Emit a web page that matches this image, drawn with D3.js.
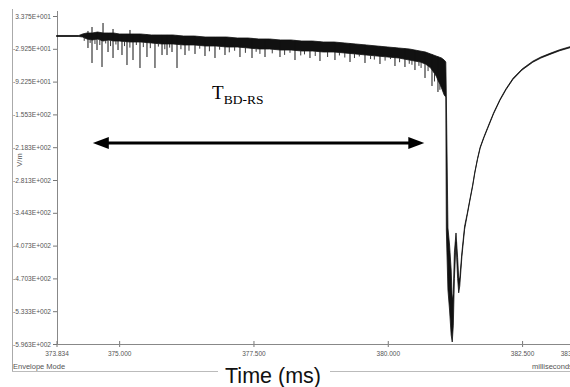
<!DOCTYPE html>
<html>
<head>
<meta charset="utf-8">
<script src="https://cdn.jsdelivr.net/npm/d3@7"></script>
<style>
  html, body { margin: 0; padding: 0; background: #fff; }
  svg { display: block; }
  .lbl { font-family: Arial, "Liberation Sans", sans-serif; fill: #555; }
</style>
</head>
<body>
<svg id="chart" width="570" height="387"></svg>
<script>
// envelope (min/max per time slot), time in ms, field in V/m
const envTime = [373.834, 374.25, 374.32, 374.4, 374.5, 374.6, 374.7, 374.8, 374.9, 375.0, 375.2, 375.4, 375.6, 375.8, 376.0, 376.2, 376.4, 376.6, 376.8, 377.0, 377.2, 377.4, 377.6, 377.8, 378.0, 378.2, 378.4, 378.6, 378.8, 379.0, 379.2, 379.4, 379.6, 379.8, 380.0, 380.2, 380.4, 380.6, 380.7, 380.8, 380.9, 381.0, 381.05, 381.08, 381.09, 381.12, 381.15, 381.18, 381.2, 381.22, 381.24, 381.27, 381.30, 381.32, 381.34, 381.38, 381.43, 381.48, 381.53, 381.58, 381.62, 381.67, 381.72, 381.79, 381.86, 381.97, 382.09, 382.2, 382.33, 382.5, 382.7, 382.85, 383.02, 383.2, 383.43];
const envHi = [-3.7, -3.7, -0.8, 1.1, 1.1, 3.0, 1.1, 1.1, 1.1, -0.8, -0.8, -0.8, -2.7, -2.7, -2.7, -4.7, -4.7, -6.6, -6.6, -6.6, -8.5, -8.5, -10.4, -10.4, -12.3, -12.3, -14.3, -14.3, -16.2, -16.2, -18.1, -20.0, -21.9, -23.9, -25.8, -27.7, -29.6, -33.5, -35.4, -39.2, -43.1, -46.9, -50.8, -54.6, -121.8, -373.4, -406.1, -454.1, -511.7, -500.0, -420.0, -383.0, -430.0, -470.0, -470.0, -420.0, -370.0, -345.0, -317.7, -291.0, -266.0, -240.0, -218.0, -198.0, -180.0, -152.0, -126.0, -106.0, -86.0, -68.0, -53.0, -45.0, -38.0, -31.0, -24.0];
const envLo = [-5.6, -5.6, -6.6, -10.4, -12.3, -10.4, -14.3, -12.3, -14.3, -14.3, -16.2, -16.2, -18.1, -20.0, -20.0, -21.9, -21.9, -23.9, -23.9, -25.8, -25.8, -27.7, -29.6, -29.6, -31.6, -31.6, -33.5, -33.5, -35.4, -35.4, -37.3, -39.2, -41.2, -43.1, -45.0, -46.9, -50.8, -54.6, -58.4, -66.1, -81.5, -104.5, -118.0, -121.8, -377.3, -492.5, -531.0, -579.0, -592.4, -560.0, -470.0, -400.0, -470.0, -498.0, -485.0, -428.0, -376.0, -348.0, -320.0, -293.0, -268.0, -242.0, -220.0, -200.0, -182.0, -154.0, -128.0, -108.0, -88.0, -70.0, -55.0, -47.0, -40.0, -33.0, -26.0];

// noise spikes below / above the band
const spikeTime = [374.420, 374.495, 374.588, 374.681, 374.793, 374.886, 374.979, 375.053, 375.146, 375.258, 375.388, 375.518, 375.667, 375.798, 375.891, 375.984, 376.077, 376.226, 376.412, 376.598, 376.784, 376.970, 377.249, 377.473, 377.715, 377.994, 378.273, 378.552, 378.738, 379.017, 379.297, 379.576, 379.855, 380.134, 380.320, 380.506, 380.693, 380.823, 380.934];
const spikeLow = [-27.7, -56.5, -31.6, -64.2, -35.4, -46.9, -31.6, -41.2, -60.4, -50.8, -66.1, -45.0, -66.1, -41.2, -41.2, -35.4, -66.1, -41.2, -39.2, -43.1, -46.9, -41.2, -45.0, -46.9, -45.0, -45.0, -50.8, -46.9, -52.7, -50.8, -54.6, -56.5, -58.4, -62.3, -64.2, -70.0, -85.3, -100.7, -112.2];
const hairTime = [374.35, 374.46, 374.55, 374.64, 374.75, 374.84, 374.94, 375.1, 375.2, 375.32, 375.45, 375.58, 375.73, 375.85, 375.94, 376.15, 376.3, 376.5, 376.68, 376.87, 377.05, 377.15, 377.35, 377.55, 377.62, 377.85, 378.08, 378.18, 378.38, 378.45, 378.65, 378.88, 379.1, 379.2, 379.38, 379.47, 379.68, 379.75, 379.95, 380.05, 380.22, 380.4, 380.45, 380.58, 380.62, 380.75, 380.87, 380.97];
const hairLow = [-14, -18, -20, -22, -19, -24, -21, -24, -27, -22, -26, -28, -25, -30, -27, -30, -33, -29, -34, -31, -36, -33, -37, -35, -39, -38, -41, -37, -42, -40, -43, -45, -42, -46, -47, -44, -49, -50, -52, -49, -55, -58, -60, -62, -66, -72, -92, -108];
const upSpikeTime = [374.420, 374.495, 374.700, 374.886, 375.202];
const upSpikeHigh = [5.0, 12.6, 20.3, 8.8, 6.9];

// axes
const yTickValues = [33.75, -29.25, -92.25, -155.25, -218.25, -281.25, -344.25, -407.25, -470.25, -533.25, -596.25];
const xTickValues = [373.834, 375.0, 377.5, 380.0, 382.5, 383.429];

// annotation
const arrowTimes = [374.51, 380.68];
const arrowLevel = -210;
const labelTime = 376.73;
const labelLevel = -125;

const W = 570, H = 387;
const svg = d3.select("#chart");

var x = d3.scaleLinear().domain([373.834, 383.429]).range([56.5, 572]);
var y = d3.scaleLinear().domain([-596.25, 33.75]).range([344, 16]);

function sci(v) {
  var s = v.toExponential(3).split("e");
  var e = parseInt(s[1], 10);
  return s[0] + "E" + (e < 0 ? "-" : "+") + String(Math.abs(e)).padStart(3, "0");
}

// frame
svg.append("line").attr("x1", 12.5).attr("x2", 12.5).attr("y1", 9).attr("y2", 372)
  .attr("stroke", "#aaa");
svg.append("line").attr("x1", 12).attr("x2", W).attr("y1", 371.5).attr("y2", 371.5)
  .attr("stroke", "#bbb");

// y axis
var yAxis = d3.axisLeft(y).tickValues(yTickValues).tickFormat(sci).tickSize(4).tickPadding(2);
var gy = svg.append("g").attr("transform", "translate(57,0)").call(yAxis);
gy.select(".domain").remove();
gy.selectAll(".tick line").attr("stroke", "#777").attr("x2", -4).attr("x1", 0);
gy.selectAll(".tick text").attr("class", "lbl").style("font-size", "6.6px").attr("fill", "#555");
svg.append("line").attr("x1", 57.5).attr("x2", 57.5).attr("y1", 11).attr("y2", 344)
  .attr("stroke", "#888");

// x axis
var xAxis = d3.axisBottom(x).tickValues(xTickValues).tickFormat(d3.format(".3f")).tickSize(3).tickPadding(4);
var gx = svg.append("g").attr("transform", "translate(0,344)").call(xAxis);
gx.select(".domain").remove();
gx.selectAll(".tick line").attr("stroke", "#777").attr("y1", -3).attr("y2", 3);
gx.selectAll(".tick text").attr("class", "lbl").style("font-size", "6.5px").attr("fill", "#555");
svg.append("line").attr("x1", 57).attr("x2", W).attr("y1", 344.5).attr("y2", 344.5)
  .attr("stroke", "#888");

// signal envelope
var env = envTime.map(function(t, i) { return { t: t, hi: envHi[i], lo: envLo[i] }; });
var area = d3.area()
  .x(function(d) { return x(d.t); })
  .y0(function(d) { return y(d.lo); })
  .y1(function(d) { return y(d.hi); });
svg.append("path").datum(env).attr("d", area)
  .attr("fill", "#111").attr("stroke", "#111").attr("stroke-width", 0.8).attr("stroke-linejoin", "round");

var hiAt = d3.scaleLinear().domain(envTime).range(envHi);
var loAt = d3.scaleLinear().domain(envTime).range(envLo);
svg.append("g").selectAll("line").data(hairTime).join("line")
  .attr("x1", function(d) { return x(d); }).attr("x2", function(d) { return x(d); })
  .attr("y1", function(d) { return y(loAt(d)); })
  .attr("y2", function(d, i) { return y(hairLow[i]); })
  .attr("stroke", "#222").attr("stroke-width", 0.9);
svg.append("g").selectAll("line").data(spikeTime).join("line")
  .attr("x1", function(d) { return x(d); }).attr("x2", function(d) { return x(d); })
  .attr("y1", function(d) { return y(hiAt(d)); })
  .attr("y2", function(d, i) { return y(spikeLow[i]); })
  .attr("stroke", "#111").attr("stroke-width", 1);
svg.append("g").selectAll("line").data(upSpikeTime).join("line")
  .attr("x1", function(d) { return x(d); }).attr("x2", function(d) { return x(d); })
  .attr("y1", function(d) { return y(hiAt(d)); })
  .attr("y2", function(d, i) { return y(upSpikeHigh[i]); })
  .attr("stroke", "#111").attr("stroke-width", 1);

// T_BD-RS arrow
var ay = y(arrowLevel), ax0 = x(arrowTimes[0]), ax1 = x(arrowTimes[1]);
svg.append("line").attr("x1", ax0 + 10).attr("x2", ax1 - 10).attr("y1", ay).attr("y2", ay)
  .attr("stroke", "#000").attr("stroke-width", 3);
svg.append("path")
  .attr("d", "M" + ax0 + "," + ay + "L" + (ax0 + 16) + "," + (ay - 6) + "L" + (ax0 + 16) + "," + (ay + 6) + "Z")
  .attr("fill", "#000");
svg.append("path")
  .attr("d", "M" + ax1 + "," + ay + "L" + (ax1 - 16) + "," + (ay - 6) + "L" + (ax1 - 16) + "," + (ay + 6) + "Z")
  .attr("fill", "#000");

var lab = svg.append("text").attr("x", x(labelTime)).attr("y", y(labelLevel))
  .style("font-family", "'Liberation Serif', 'Times New Roman', serif").attr("fill", "#000");
lab.append("tspan").style("font-size", "19px").text("T");
lab.append("tspan").style("font-size", "13.5px").attr("dy", 5).text("BD-RS");

// bottom texts
svg.append("text").attr("class", "lbl").attr("x", 13).attr("y", 369).style("font-size", "7.5px").text("Envelope Mode");
svg.append("text").attr("class", "lbl").attr("x", 532).attr("y", 369).style("font-size", "7.5px").text("milliseconds");
svg.append("text").attr("class", "lbl").attr("transform", "translate(22,160) rotate(-90)")
  .attr("text-anchor", "middle").style("font-size", "7.5px").text("V/m");

svg.append("rect").attr("x", 218).attr("y", 364).attr("width", 112).attr("height", 23).attr("fill", "#fff");
svg.append("text").attr("x", 273).attr("y", 382.5).attr("text-anchor", "middle")
  .style("font-family", "Arial, 'Liberation Sans', sans-serif").style("font-size", "21.5px")
  .attr("fill", "#111").text("Time (ms)");
</script>
</body>
</html>
